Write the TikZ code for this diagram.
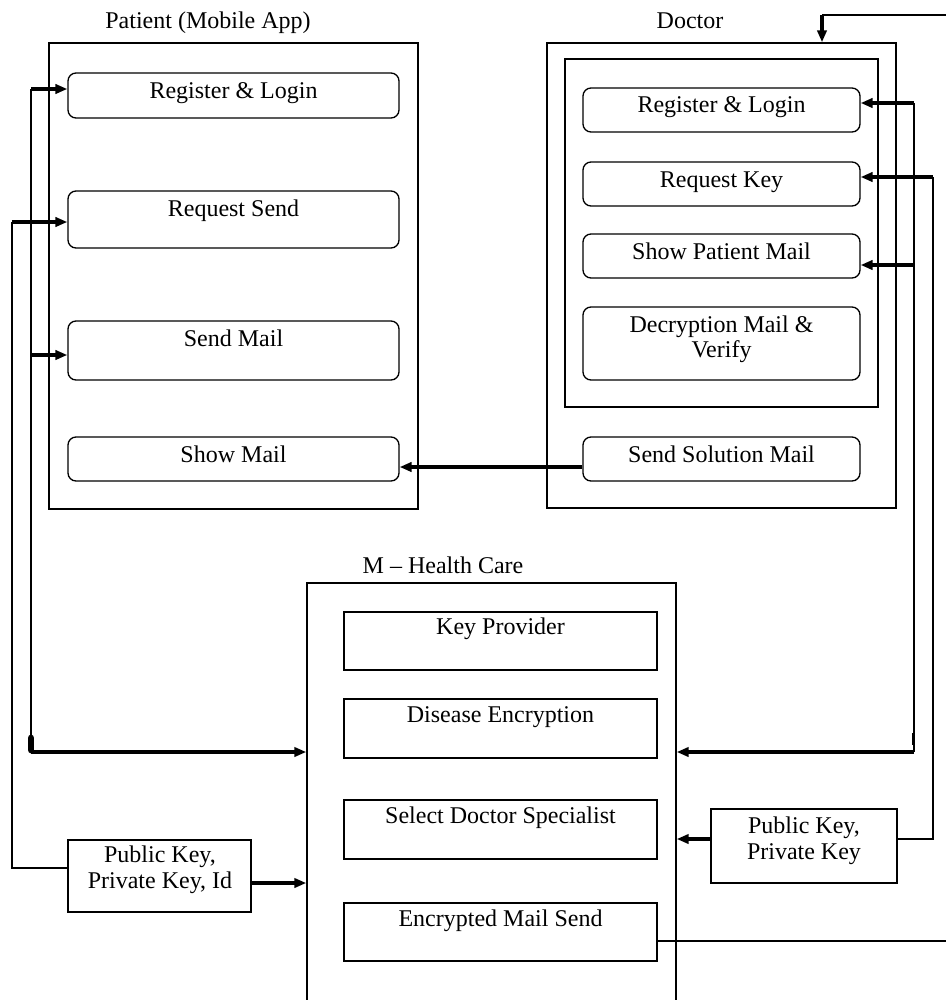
\documentclass[tikz,border=0pt]{standalone}
\usepackage{fontspec}
\setmainfont{Liberation Serif}
\usetikzlibrary{arrows.meta,fit,calc}
\begin{document}
\begin{tikzpicture}[x=0.75pt,y=-0.75pt,
  frame/.style={draw, line width=1.1pt, inner sep=0pt},
  rbox/.style={draw, line width=1pt, rounded corners=6pt, inner sep=0pt},
  sbox/.style={draw, line width=1.1pt, inner sep=0pt},
  lbl/.style={anchor=base, inner sep=0pt, font=\fontsize{18}{19}\selectfont},
  mlbl/.style={anchor=base, inner sep=0pt, align=center, font=\fontsize{18}{19}\selectfont},
  arr/.style={line width=2.3pt, -{Triangle[length=9pt,width=7pt]}},
  bus/.style={line width=1.3pt},
  wire/.style={line width=1pt}]
\useasboundingbox (0,0) rectangle (946,1000);
\clip (0,0) rectangle (946,1000);

% ---------- Patient ----------
\node[frame, fit={(49,43) (418,509)}] (pout) {};
\node[lbl] (ptitle) at (208,28) {Patient (Mobile App)};
\node[rbox, fit={(68,73) (399,118)}] (preg) {};
\node[rbox, fit={(68,191) (399,248)}] (preq) {};
\node[rbox, fit={(68,321) (399,380)}] (psend) {};
\node[rbox, fit={(68,437) (399,481)}] (pshow) {};
\node[lbl] (tpreg) at ($(preg.north)+(0,26)$) {Register \& Login};
\node[lbl] (tpreq) at ($(preq.north)+(0,26)$) {Request Send};
\node[lbl] (tpsend) at ($(psend.north)+(0,26)$) {Send Mail};
\node[lbl] (tpshow) at ($(pshow.north)+(0,26)$) {Show Mail};

% ---------- Doctor ----------
\node[frame, fit={(547,43) (896,508)}] (dout) {};
\node[frame, fit={(565,59) (878,407)}] (din) {};
\node[lbl] (dtitle) at (690,28) {Doctor};
\node[rbox, fit={(583,88) (860,132)}] (dreg) {};
\node[rbox, fit={(583,162) (860,206)}] (dreq) {};
\node[rbox, fit={(583,234) (860,278)}] (dshow) {};
\node[rbox, fit={(583,307) (860,380)}] (ddec) {};
\node[rbox, fit={(583,437) (860,481)}] (dsol) {};
\node[lbl] (tdreg) at ($(dreg.north)+(0,25)$) {Register \& Login};
\node[lbl] (tdreq) at ($(dreq.north)+(0,26)$) {Request Key};
\node[lbl] (tdshow) at ($(dshow.north)+(0,26)$) {Show Patient Mail};
\node[mlbl] (tddec) at ($(ddec.north)+(0,51)$) {Decryption Mail \&\\Verify};
\node[lbl] (tdsol) at ($(dsol.north)+(0,26)$) {Send Solution Mail};

% ---------- M-Health Care ----------
\node[frame, fit={(307,583) (676,1020)}] (mh) {};
\node[lbl] (mtitle) at (443,573) {M \textendash\ Health Care};
\node[sbox, fit={(344,612) (657,670)}] (mkey) {};
\node[sbox, fit={(344,699) (657,758)}] (mdis) {};
\node[sbox, fit={(344,800) (657,859)}] (msel) {};
\node[sbox, fit={(344,903) (657,961)}] (menc) {};
\node[lbl] (tmkey) at ($(mkey.north)+(0,23)$) {Key Provider};
\node[lbl] (tmdis) at ($(mdis.north)+(0,24)$) {Disease Encryption};
\node[lbl] (tmsel) at ($(msel.north)+(0,24)$) {Select Doctor Specialist};
\node[lbl] (tmenc) at ($(menc.north)+(0,24)$) {Encrypted Mail Send};

% ---------- key boxes ----------
\node[sbox, fit={(68,840) (251,912)}] (pkl) {};
\node[mlbl] (tpkl) at (160,888) {Public Key,\\Private Key, Id};
\node[sbox, fit={(711,809) (897,883)}] (pkr) {};
\node[mlbl] (tpkr) at (804,859) {Public Key,\\Private Key};

% ---------- coordinates ----------
\coordinate (edgeT) at (946,15);
\coordinate (topC) at (822,15);
\coordinate (lAtop) at (31,89);
\coordinate (lAmid) at (31,355);
\coordinate (lAbot) at (31,752);
\coordinate (lBtop) at (12,222);
\coordinate (lBbot) at (12,868);
\coordinate (rAtop) at (914,103);
\coordinate (rAmid) at (914,265);
\coordinate (rAbot) at (914,752);
\coordinate (rBtop) at (933,177);
\coordinate (rBbot) at (933,839);
\coordinate (solY) at (0,467);
\coordinate (pklY) at (0,883);
\coordinate (encY) at (0,941);
\coordinate (edgeB) at (946,941);

% ---------- connectors ----------
% top incoming line
\draw[wire] (edgeT) -- (topC);
\draw[arr] (topC) -- (topC |- dout.north);

% left bus A
\draw[bus] (lAtop) -- (lAbot);
\draw[line width=5pt, line cap=round] (31,738) -- (31,750);
\draw[arr] (lAtop) -- (lAtop -| preg.west);
\draw[arr] (lAmid) -- (lAmid -| psend.west);
\draw[arr] (lAbot) -- (lAbot -| mh.west);

% left bus B
\draw[wire] (lBbot -| pkl.west) -- (lBbot) -- (lBtop);
\draw[arr] (lBtop) -- (lBtop -| preq.west);
\draw[arr] (pklY -| pkl.east) -- (pklY -| mh.west);

% right bus A
\draw[bus] (rAtop) -- (rAbot);
\draw[line width=2pt] (913,733) -- (913,745);
\draw[arr] (rAtop) -- (rAtop -| dreg.east);
\draw[arr] (rAmid) -- (rAmid -| dshow.east);
\draw[arr] (rAbot) -- (rAbot -| mh.east);

% right bus B
\draw[bus] (rBbot -| pkr.east) -- (rBbot) -- (rBtop);
\draw[arr] (rBtop) -- (rBtop -| dreq.east);
\draw[arr] (rBbot -| pkr.west) -- (rBbot -| mh.east);

% solution mail to show mail
\draw[arr] (solY -| dsol.west) -- (solY -| pshow.east);

% encrypted mail out
\draw[wire] (encY -| menc.east) -- (edgeB);
\end{tikzpicture}
\end{document}
